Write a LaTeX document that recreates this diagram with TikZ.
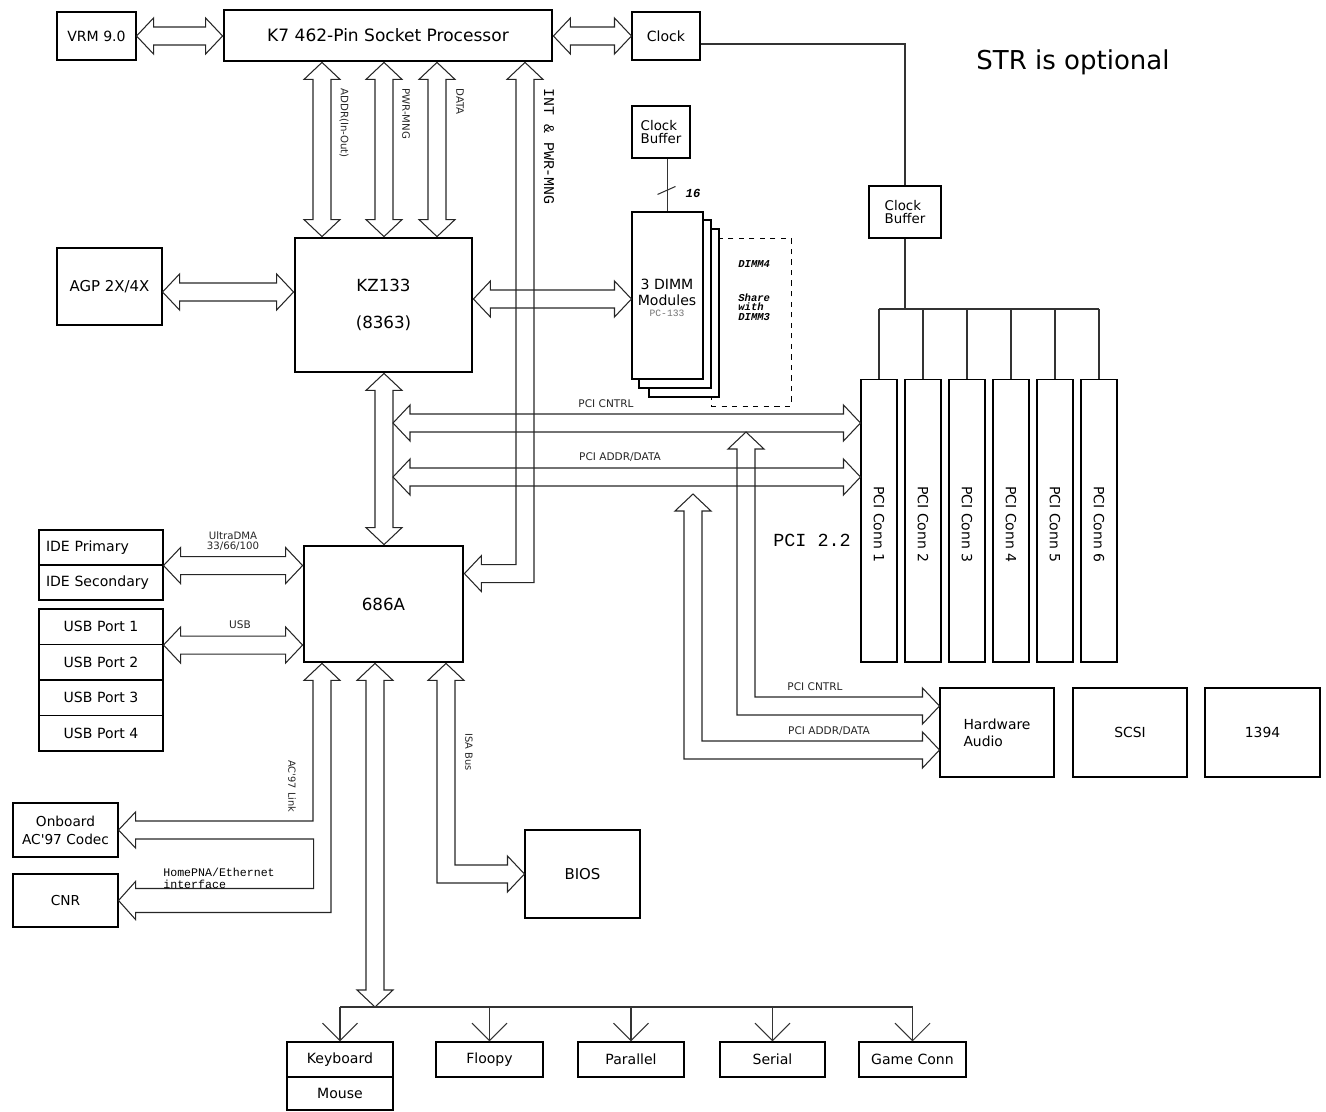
\documentclass[tikz,border=0pt]{standalone}
\usepackage{fontspec}
\setmainfont{DejaVu Sans}
\setmonofont{Liberation Mono}
\usetikzlibrary{calc,arrows.meta}

\newcommand{\fsz}[2]{\fontsize{#1pt}{#2pt}\selectfont}
\newcommand{\headl}{17}
\newcommand{\headw}{18}
\newcommand{\shaftw}{9}

% hollow double arrow, left tip to right tip
\newcommand{\hbus}[2]{%
  \coordinate (bA) at (#1);
  \coordinate (bB) at (#2);
  \draw[bus] (bA) -- ($(bA)+(\headl,-\headw)$) -- ($(bA)+(\headl,-\shaftw)$)
    -- ($(bB)+(-\headl,-\shaftw)$) -- ($(bB)+(-\headl,-\headw)$) -- (bB)
    -- ($(bB)+(-\headl,\headw)$) -- ($(bB)+(-\headl,\shaftw)$)
    -- ($(bA)+(\headl,\shaftw)$) -- ($(bA)+(\headl,\headw)$) -- cycle;}

% hollow double arrow, top tip to bottom tip
\newcommand{\vbus}[2]{%
  \coordinate (bA) at (#1);
  \coordinate (bB) at (#2);
  \draw[bus] (bA) -- ($(bA)+(\headw,\headl)$) -- ($(bA)+(\shaftw,\headl)$)
    -- ($(bB)+(\shaftw,-\headl)$) -- ($(bB)+(\headw,-\headl)$) -- (bB)
    -- ($(bB)+(-\headw,-\headl)$) -- ($(bB)+(-\shaftw,-\headl)$)
    -- ($(bA)+(-\shaftw,\headl)$) -- ($(bA)+(-\headw,\headl)$) -- cycle;}

% hollow elbow arrow, tip up, then down and right
\newcommand{\elbow}[2]{%
  \coordinate (bA) at (#1);
  \coordinate (bB) at (#2);
  \draw[bus] (bA) -- ++(\headw,\headl) -- ++({\shaftw-\headw},0)
    |- ($(bB)+(-\headl,-\shaftw)$) -- ($(bB)+(-\headl,-\headw)$) -- (bB)
    -- ($(bB)+(-\headl,\headw)$) -- ($(bB)+(-\headl,\shaftw)$)
    -| ($(bA)+(-\shaftw,\headl)$) -- ($(bA)+(-\headw,\headl)$) -- cycle;}

\begin{document}
\begin{tikzpicture}[x=0.02cm, y=-0.02cm,
  span/.style n args={4}{minimum width={((#3)-(#1))*0.02cm}, minimum height={((#4)-(#2))*0.02cm},
    at={({((#1)+(#3))/2},{((#2)+(#4))/2})}},
  box/.style={draw, line width=0.6pt, inner sep=0pt, align=center, font=\fsz{8}{9.6}},
  chip/.style={box, line width=1.6pt},
  bus/.style={draw=black!85, line width=0.6pt, line join=miter},
  wire/.style={draw=black!80, line width=0.6pt},
  tag/.style={font=\fsz{6}{7}, text=black!85, inner sep=0pt},
  vtag/.style={tag, rotate=-90, anchor=west},
  drop/.style={wire, -{Straight Barb[length=10pt, width=20pt]}}]

\useasboundingbox (0,0) rectangle (1326,1112);

% processor row
\node[box, span={57}{12}{136}{60}] (vrm) {VRM 9.0};
\node[chip, span={224}{10}{552}{61}, font=\fsz{9.7}{11}] (cpu) {K7 462-Pin Socket Processor};
\node[box, span={632}{12}{700}{60}] (clk) {Clock};
\node[font=\fsz{14.8}{17}] (str) at (1073,62) {STR is optional};

\node[box, span={632}{106}{690}{158}, align=left, font=\fsz{7.6}{7.8}] (cbuf) {Clock\\Buffer};
\node[box, span={869}{186}{941}{238}, align=left, font=\fsz{7.6}{7.8}] (pbuf) {Clock\\Buffer};

% north bridge and memory
\node[box, span={57}{248}{162}{325}, font=\fsz{8.5}{10}] (agp) {AGP 2X/4X};
\node[chip, span={295}{238}{472}{372}, font=\fsz{9.5}{11}] (nb) {KZ133\\[10pt](8363)};

\node[draw, dashed, line width=0.5pt, inner sep=0pt, span={711}{238}{791}{406}] (dimmx) {};
\node[box, fill=white, span={649}{229}{719}{397}] (dimmc) {};
\node[box, fill=white, span={639}{220}{711}{388}] (dimmb) {};
\node[box, fill=white, span={632}{212}{703}{379}] (dimm) {};
\node[font=\fsz{8}{9.1}, align=center] (ldimm) at (667,292) {3 DIMM\\Modules};
\node[font=\ttfamily\fsz{5.5}{6}, text=black!55] (lpc133) at (667,313) {PC-133};
\node[anchor=west, inner sep=0pt, font=\ttfamily\bfseries\itshape\fsz{6}{5.4}] (ld4) at (738,264) {DIMM4};
\node[anchor=west, inner sep=0pt, align=left, font=\ttfamily\bfseries\itshape\fsz{6}{5.4}] (lshare) at (738,307) {Share\\with\\DIMM3};

% pci slots
\foreach \i in {1,...,6}{
  \node[box, minimum width=0.72cm, minimum height=5.66cm] (pc\i) at ({879+44*(\i-1)},520.5) {};
  \node[rotate=-90, font=\fsz{8}{9}] (pcl\i) at ($(pc\i)+(0,4)$) {PCI Conn \i};
}
\node[font=\ttfamily\fsz{10.5}{12}] (lpci) at (812,540) {PCI 2.2};

% south bridge and ports
\node[chip, span={304}{546}{463}{662}, font=\fsz{9.5}{11}] (sb) {686A};
\node[box, span={39}{530}{163}{565}, text width=2.2cm, align=left] (idep) {IDE Primary};
\node[box, span={39}{565}{163}{600}, text width=2.2cm, align=left] (ides) {IDE Secondary};
\foreach \i in {1,...,4}
  \node[box, span={39}{609+35.5*(\i-1)}{163}{644.5+35.5*(\i-1)}] (usb\i) {USB Port \i};

\node[box, span={13}{803}{118}{857}, font=\fsz{7.8}{10.2}] (codec) {Onboard\\AC\textquotesingle 97 Codec};
\node[box, span={13}{874}{118}{927}, font=\fsz{7.8}{9}] (cnr) {CNR};
\node[box, span={525}{830}{640}{918}, font=\fsz{8.5}{10}] (bios) {BIOS};

\node[box, span={940}{688}{1054}{777}, align=left, font=\fsz{7.9}{9.7}] (hwa) {Hardware\\Audio};
\node[box, span={1073}{688}{1187}{777}, font=\fsz{7.9}{9.5}] (scsi) {SCSI};
\node[box, span={1205}{688}{1320}{777}, font=\fsz{7.9}{9.5}] (fw) {1394};

\node[box, span={287}{1042}{393}{1077}] (kbd) {Keyboard};
\node[box, span={287}{1077}{393}{1110}] (mouse) {Mouse};
\node[box, span={436}{1042}{543}{1077}] (fdd) {Floopy};
\node[box, span={578}{1042}{684}{1077}] (lpt) {Parallel};
\node[box, span={720}{1042}{825}{1077}] (com) {Serial};
\node[box, span={859}{1042}{966}{1077}] (game) {Game Conn};

% clock lines
\draw[wire] ($(clk.east)+(0,8)$) -| (pbuf.north);
\coordinate (ckbus) at (905,309);
\draw[wire] (pbuf.south) -- (ckbus);
\draw[wire] (pc1.north |- ckbus) -- (pc6.north |- ckbus);
\foreach \i in {1,...,6}
  \draw[wire] (pc\i.north |- ckbus) -- (pc\i.north);
\draw[wire] (dimm.north |- cbuf.south) -- (dimm.north);
\draw[wire] ($(dimm.north)+(-10,-17)$) -- ++(18,-8);
\node[font=\ttfamily\bfseries\itshape\fsz{7}{8}] (l16) at (693,193) {16};

% host buses
\hbus{vrm.east}{cpu.west |- vrm.east}
\hbus{cpu.east |- clk.west}{clk.west}
\vbus{322,0 |- cpu.south}{322,0 |- nb.north}
\vbus{384,0 |- cpu.south}{384,0 |- nb.north}
\vbus{437,0 |- cpu.south}{437,0 |- nb.north}
\node[vtag, font=\fsz{5.8}{6}] (laddrio) at (344,88) {ADDR(In-Out)};
\node[vtag, font=\fsz{5.8}{6}] (lpwr) at (406,88) {PWR-MNG};
\node[vtag, font=\fsz{5.8}{6}] (ldata) at (460,88) {DATA};

% INT & PWR-MNG to the south bridge
\coordinate (iT) at (525,0 |- cpu.south);
\coordinate (iL) at ($(sb.north east)+(0,29)$);
\draw[bus] (iT) -- ++(\headw,\headl) -- ++({\shaftw-\headw},0)
  |- ($(iL)+(\headl,\shaftw)$) -- ($(iL)+(\headl,\headw)$) -- (iL)
  -- ($(iL)+(\headl,-\headw)$) -- ($(iL)+(\headl,-\shaftw)$)
  -| ($(iT)+(-\shaftw,\headl)$) -- ($(iT)+(-\headw,\headl)$) -- cycle;
\node[vtag, font=\ttfamily\fsz{8.5}{9}, text=black] (lint) at (549,88) {INT \& PWR-MNG};

\hbus{agp.east |- 0,292}{nb.west |- 0,292}
\hbus{nb.east |- 0,299}{dimm.west |- 0,299}
\vbus{384,0 |- nb.south}{384,0 |- sb.north}

% pci bus
\coordinate (cntrl) at (393,423);
\coordinate (addr) at (393,477);
\hbus{cntrl}{pc1.west |- cntrl}
\hbus{addr}{pc1.west |- addr}
\node[tag] (lcntrl) at (606,404) {PCI CNTRL};
\node[tag] (laddr) at (620,457) {PCI ADDR/DATA};

\coordinate (cntrlT) at (746,432);
\coordinate (addrT) at (693,494);
\elbow{cntrlT}{hwa.west |- 0,706}
\elbow{addrT}{hwa.west |- 0,750}
\node[tag] (lcntrl2) at (815,687) {PCI CNTRL};
\node[tag] (laddr2) at (829,731) {PCI ADDR/DATA};

% ide and usb
\hbus{idep.south east}{sb.west |- idep.south east}
\hbus{usb1.south east}{sb.west |- usb1.south east}
\node[tag, align=center, font=\fsz{5.8}{5.7}] (ldma) at (233,541) {UltraDMA\\33/66/100};
\node[tag] (lusb) at (240,625) {USB};

% AC'97 link and CNR
\coordinate (acT) at (322,0 |- sb.south);
\draw[bus] (acT) -- ++(\headw,\headl) -- ++({\shaftw-\headw},0)
  |- ($(cnr.east)+(\headl,12)$) -- ++(0,7) -- (cnr.east)
  -- ($(cnr.east)+(\headl,-19)$) -- ($(cnr.east)+(\headl,-12)$) -- ++(178,0)
  |- ($(codec.east)+(\headl,\shaftw)$) -- ($(codec.east)+(\headl,\headw)$) -- (codec.east)
  -- ($(codec.east)+(\headl,-\headw)$) -- ($(codec.east)+(\headl,-\shaftw)$)
  -| ($(acT)+(-\shaftw,\headl)$) -- ($(acT)+(-\headw,\headl)$) -- cycle;
\node[vtag, font=\fsz{5.6}{6}] (lac) at (292,760) {AC\textquotesingle 97 Link};
\node[anchor=west, align=left, inner sep=0pt, font=\ttfamily\fsz{6.6}{6.8}] (lpna) at (163,878) {HomePNA/Ethernet\\interface};

% isa bus
\elbow{446,0 |- sb.south}{bios.west}
\node[vtag, font=\fsz{5.6}{6}] (lisa) at (469,733) {ISA Bus};

% legacy ports
\coordinate (lpc) at (375,1007);
\vbus{375,0 |- sb.south}{lpc}
\draw[wire] (kbd.north |- lpc) -- (game.north |- lpc);
\foreach \n in {kbd,fdd,lpt,com,game}
  \draw[drop] (\n.north |- lpc) -- (\n.north);

\end{tikzpicture}
\end{document}
